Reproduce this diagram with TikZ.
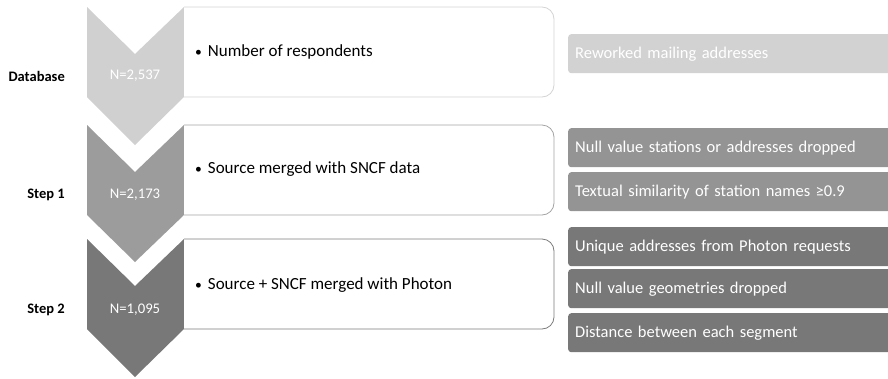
\documentclass[tikz,border=0pt]{standalone}
\usepackage{fontspec}
\setmainfont{Carlito}
\definecolor{gA}{HTML}{D0D0D0}
\definecolor{gB}{HTML}{9C9C9C}
\definecolor{gC}{HTML}{787878}
\definecolor{bA}{HTML}{D4D4D4}
\definecolor{bB}{HTML}{A4A4A4}
\definecolor{bC}{HTML}{7C7C7C}
\begin{document}
\begin{tikzpicture}[x=1pt,y=-1pt,
  steplabel/.style={anchor=east,font=\fontsize{14.5}{16}\selectfont\bfseries,text=black,inner sep=0pt},
  nlabel/.style={font=\fontsize{14.7}{16}\selectfont,text=white,inner sep=0pt},
  bullettext/.style={anchor=west,font=\fontsize{17}{19}\selectfont,text=black,inner sep=0pt},
  sidebox/.style={anchor=north west,minimum width=330pt,minimum height=39pt,rounded corners=3pt,
     text=white,font=\fontsize{16.5}{19}\selectfont,inner sep=0pt,text width=316pt,align=left,inner xsep=6pt},
  infobox/.style={fill=white,line width=0.8pt,rounded corners=12pt}]
\useasboundingbox (0,0) rectangle (888,378);
% chevrons
\fill[gA] (87,7) -- (135,54) -- (184,7) -- (184,97) -- (135,145) -- (87,97) -- cycle;
\fill[gB] (87,125) -- (135,172) -- (184,125) -- (184,215) -- (135,262) -- (87,215) -- cycle;
\fill[gC] (87,239) -- (135,286) -- (184,239) -- (184,329) -- (135,377) -- (87,329) -- cycle;
% info boxes
\filldraw[infobox,draw=bA] (184,7) -- (554,7) -- (554,97) -- (184,97);
\filldraw[infobox,draw=bB] (184,125) -- (554,125) -- (554,215) -- (184,215);
\filldraw[infobox,draw=bC] (184,239) -- (554,239) -- (554,329) -- (184,329);
% labels
\node[steplabel] (db) at (65,76) {Database};
\node[steplabel] (s1) at (65,195) {Step 1};
\node[steplabel] (s2) at (65,310) {Step 2};
\node[nlabel] (n0) at (135,76) {N=2,537};
\node[nlabel] (n1) at (135,195) {N=2,173};
\node[nlabel] (n2) at (135,310) {N=1,095};
\node[bullettext] (t0) at (195,52) {\scalebox{0.8}{\textbullet}\hspace{6pt}Number of respondents};
\node[bullettext] (t1) at (195,169) {\scalebox{0.8}{\textbullet}\hspace{6pt}Source merged with SNCF data};
\node[bullettext] (t2) at (195,285) {\scalebox{0.8}{\textbullet}\hspace{6pt}Source + SNCF merged with Photon};
% side boxes
\node[sidebox,fill=gA!95!white] (r0) at (568,34) {Reworked mailing addresses};
\node[sidebox,fill=gB!95!black] (r1) at (568,128) {Null value stations or addresses dropped};
\node[sidebox,fill=gB!95!black] (r2) at (568,172) {Textual similarity of station names ≥0.9};
\node[sidebox,fill=gC] (r3) at (568,227) {Unique addresses from Photon requests};
\node[sidebox,fill=gC] (r4) at (568,269) {Null value geometries dropped};
\node[sidebox,fill=gC] (r5) at (568,313) {Distance between each segment};
\end{tikzpicture}
\end{document}
